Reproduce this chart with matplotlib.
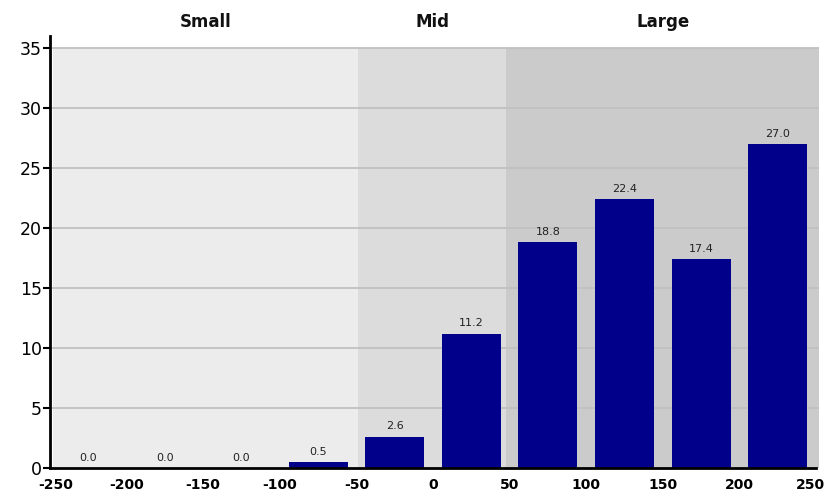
import matplotlib
matplotlib.use("Agg")
import matplotlib.pyplot as plt
from matplotlib.transforms import ScaledTranslation

bin_centers = [-225, -175, -125, -75, -25, 25, 75, 125, 175, 225]
values = [0.0, 0.0, 0.0, 0.5, 2.6, 11.2, 18.8, 22.4, 17.4, 27.0]
x_ticks = [-250, -200, -150, -100, -50, 0, 50, 100, 150, 200, 250]
y_ticks = [0, 5, 10, 15, 20, 25, 30, 35]
regions = ["Small", "Mid", "Large"]
region_bounds = [(-248, -49), (-49, 48), (48, 252)]
region_colors = ["#ececec", "#dcdcdc", "#cbcbcb"]

fig = plt.figure(figsize=(8.28, 4.96), dpi=100)
ax = fig.add_axes([50/828, 28/496, (819-50)/828, (468-36)/496])
ax.set_xlim(-250, 252)
ax.set_ylim(0, 36)

for (a, b), c, name in zip(region_bounds, region_colors, regions):
    ax.fill_between([a, b], 0, 35, color=c, zorder=0, linewidth=0)
    ax.text((a + b) / 2, 37.2, name, ha="center", va="center",
            fontsize=12, fontweight="bold", color="#111111", clip_on=False)

for yv in y_ticks[1:]:
    ax.plot([-248, 252], [yv, yv], color="#c0c0c0", linewidth=1.3, zorder=1)

bars = ax.bar(bin_centers, values, width=38.5, color="#00008b", zorder=2)
for xc, v in zip(bin_centers, values):
    ax.text(xc, v + 0.45, f"{v:.1f}", ha="center", va="bottom",
            fontsize=8, color="#222222", zorder=3)

ax.spines["top"].set_visible(False)
ax.spines["right"].set_visible(False)
ax.spines["left"].set_linewidth(2)
ax.spines["bottom"].set_linewidth(2)
ax.spines["bottom"].set_bounds(-250, 250)
ax.spines["left"].set_zorder(4)
ax.spines["bottom"].set_zorder(4)

ax.set_xticks(x_ticks)
ax.set_xticklabels([str(t) for t in x_ticks], fontweight="bold", fontsize=10)
ax.tick_params(axis="x", length=0, pad=7)
ax.set_yticks(y_ticks)
ax.set_yticklabels([str(t) for t in y_ticks], fontsize=12.5)
ax.tick_params(axis="y", length=5, width=1.5, pad=1)
ax.patch.set_alpha(0)

labels = ax.get_xticklabels()
shift = ScaledTranslation(-5/100, 0, fig.dpi_scale_trans)
labels[-1].set_transform(labels[-1].get_transform() + shift)
shift0 = ScaledTranslation(6/100, 0, fig.dpi_scale_trans)
labels[0].set_transform(labels[0].get_transform() + shift0)

fig.savefig("out.png", dpi=100)
